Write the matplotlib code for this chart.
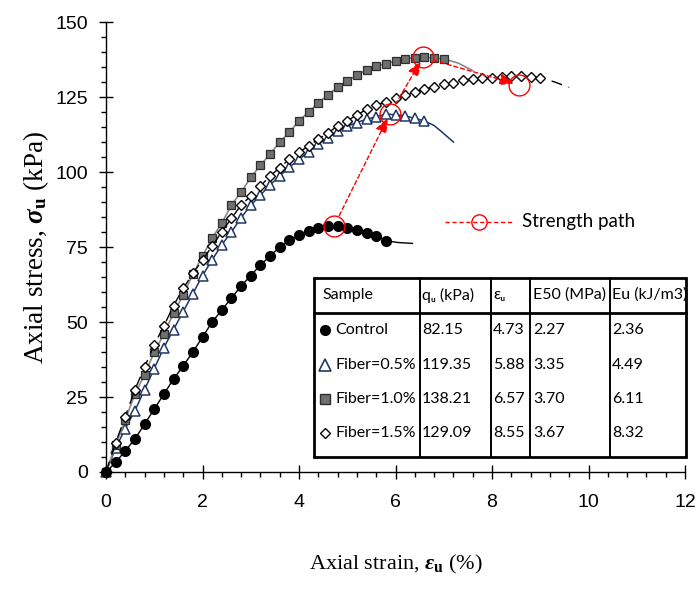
import matplotlib
matplotlib.use("Agg")
import matplotlib.pyplot as plt
from matplotlib import font_manager
from matplotlib.ticker import MultipleLocator
from matplotlib.lines import Line2D

# ---- stress-strain data (strain in %, stress in kPa) ----
control_strain = [0.0, 0.2, 0.4, 0.6, 0.8, 1.0, 1.2, 1.4, 1.6, 1.8, 2.0, 2.2, 2.4, 2.6, 2.8,
                  3.0, 3.2, 3.4, 3.6, 3.8, 4.0, 4.2, 4.4, 4.6, 4.8, 5.0, 5.2, 5.4, 5.6, 5.8]
control_stress = [0.0, 3.2, 7.1, 11.0, 16.0, 21.0, 26.0, 31.0, 35.4, 40.0, 45.0, 50.0, 54.0, 58.0, 62.0,
                  65.5, 69.0, 72.0, 75.0, 77.2, 79.0, 80.5, 81.4, 82.0, 82.1, 81.4, 80.8, 79.8, 78.8, 77.1]
control_tail_strain = [6.05, 6.35]
control_tail_stress = [76.5, 76.2]

fiber05_strain = [0.0, 0.2, 0.4, 0.6, 0.8, 1.0, 1.2, 1.4, 1.6, 1.8, 2.0, 2.2, 2.4, 2.6, 2.8, 3.0, 3.2,
                  3.4, 3.6, 3.8, 4.0, 4.2, 4.4, 4.6, 4.8, 5.0, 5.2, 5.4, 5.6, 5.8, 6.0, 6.2, 6.4, 6.6]
fiber05_stress = [0.0, 8.0, 14.5, 20.5, 27.5, 34.5, 41.5, 47.5, 53.5, 59.5, 65.5, 70.7, 75.8, 80.0, 84.8,
                  88.9, 92.3, 95.7, 98.7, 101.6, 104.2, 106.8, 109.3, 111.5, 113.6, 115.3, 116.5,
                  117.6, 118.4, 119.3, 119.1, 118.7, 117.9, 117.0]
fiber05_tail_strain = [6.8, 7.0, 7.2]
fiber05_tail_stress = [115.5, 112.8, 110.0]

fiber10_strain = [0.0, 0.2, 0.4, 0.6, 0.8, 1.0, 1.2, 1.4, 1.6, 1.8, 2.0, 2.2, 2.4, 2.6, 2.8, 3.0, 3.2,
                  3.4, 3.6, 3.8, 4.0, 4.2, 4.4, 4.6, 4.8, 5.0, 5.2, 5.4, 5.6, 5.8, 6.0, 6.2, 6.4,
                  6.6, 6.8, 7.0]
fiber10_stress = [0.0, 9.0, 17.5, 26.0, 32.5, 40.0, 46.0, 53.0, 59.0, 66.0, 72.0, 78.0, 83.0, 89.0, 93.3,
                  98.2, 102.2, 106.0, 110.0, 113.3, 117.0, 120.1, 123.0, 125.8, 128.2, 130.3, 132.3,
                  134.0, 135.2, 136.1, 137.0, 137.7, 138.1, 138.2, 138.0, 137.7]
fiber10_tail_strain = [7.3, 7.6]
fiber10_tail_stress = [136.3, 133.8]

fiber15_strain = [0.0, 0.2, 0.4, 0.6, 0.8, 1.0, 1.2, 1.4, 1.6, 1.8, 2.0, 2.2, 2.4, 2.6, 2.8, 3.0, 3.2,
                  3.4, 3.6, 3.8, 4.0, 4.2, 4.4, 4.6, 4.8, 5.0, 5.2, 5.4, 5.6, 5.8, 6.0, 6.2, 6.4,
                  6.6, 6.8, 7.0, 7.2, 7.4, 7.6, 7.8, 8.0, 8.2, 8.4, 8.6, 8.8, 9.0]
fiber15_stress = [0.0, 9.8, 18.5, 27.5, 35.0, 42.5, 48.7, 55.5, 61.2, 66.2, 70.7, 75.3, 80.1, 84.6, 89.0,
                  92.0, 95.3, 98.7, 101.4, 104.3, 106.6, 108.7, 110.9, 113.1, 115.3, 117.1, 119.0,
                  120.9, 122.3, 123.4, 124.6, 125.7, 126.6, 127.6, 128.4, 129.2, 129.8, 130.7,
                  131.0, 131.4, 131.5, 131.8, 132.0, 132.0, 131.8, 131.4]
fiber15_tail_strain = [9.3, 9.6]
fiber15_tail_stress = [130.0, 128.2]

# ---- summary table ----
table_header = ["Sample", "qᵤ (kPa)", "εᵤ", "E50 (MPa)", "Eu (kJ/m3)"]
table_samples = ["Control", "Fiber=0.5%", "Fiber=1.0%", "Fiber=1.5%"]
table_qu = [82.15, 119.35, 138.21, 129.09]
table_eu = [4.73, 5.88, 6.57, 8.55]
table_e50 = [2.27, 3.35, 3.70, 3.67]
table_energy = [2.36, 4.49, 6.11, 8.32]

x_ticks = [0, 2, 4, 6, 8, 10, 12]
y_ticks = [0, 25, 50, 75, 100, 125, 150]

# ---- fonts ----
available = {f.name for f in font_manager.fontManager.ttflist}
if "Liberation Sans Narrow" in available:
    tick_family, tick_size = "Liberation Sans Narrow", 16
else:
    tick_family, tick_size = "Liberation Sans", 14
table_family = ["Lato", "DejaVu Sans"]

plt.rcParams["mathtext.fontset"] = "custom"
plt.rcParams["mathtext.rm"] = "Liberation Serif"
plt.rcParams["mathtext.it"] = "Liberation Serif:italic"
plt.rcParams["mathtext.bf"] = "Liberation Serif:bold"
plt.rcParams["mathtext.bfit"] = "Liberation Serif:bold:italic"

NAVY = "#1f3864"
GRAY_FILL = "#6f6f6f"
GRAY_LINE = "#8a8a8a"
RED = "#ff0000"

fig = plt.figure(figsize=(6.99, 5.90), dpi=100)
ax = fig.add_axes([0.1517, 0.2, 0.8283, 0.7627])

# curves: markers on measured points, plain line on the tail
ax.plot(fiber05_strain + fiber05_tail_strain, fiber05_stress + fiber05_tail_stress,
        color=NAVY, lw=1.1, marker="^", ms=7, mfc="white", mec=NAVY, mew=1.1,
        markevery=list(range(len(fiber05_strain))), zorder=3, clip_on=False)
ax.plot(fiber10_strain + fiber10_tail_strain, fiber10_stress + fiber10_tail_stress,
        color=GRAY_LINE, lw=1.2, marker="s", ms=6.3, mfc=GRAY_FILL, mec="#2e2e2e", mew=0.9,
        markevery=list(range(len(fiber10_strain))), zorder=4, clip_on=False)
ax.plot(fiber15_strain + fiber15_tail_strain, fiber15_stress + fiber15_tail_stress,
        color="black", lw=1.0, ls=(0, (8, 5)), marker="D", ms=4.6, mfc="white", mec="black",
        mew=1.0, markevery=list(range(len(fiber15_strain))), zorder=5, clip_on=False)
ax.plot(control_strain + control_tail_strain, control_stress + control_tail_stress,
        color="black", lw=1.0, marker="o", ms=7, mfc="black", mec="black",
        markevery=list(range(len(control_strain))), zorder=6, clip_on=False)

# strength path through the peak points
ax.plot(table_eu, table_qu, ls="none", marker="o", ms=15, mfc="none", mec=RED, mew=1.0, zorder=7)
for i in range(len(table_eu) - 1):
    ax.annotate("", xy=(table_eu[i + 1], table_qu[i + 1]), xytext=(table_eu[i], table_qu[i]),
                arrowprops=dict(arrowstyle="-|>,head_length=0.9,head_width=0.35", color=RED,
                                lw=1.0, ls=(0, (3, 2)), shrinkA=8, shrinkB=3),
                zorder=7)

# axes styling
ax.set_xlim(0, 12)
ax.set_ylim(0, 150)
ax.set_xticks(x_ticks)
ax.set_yticks(y_ticks)
ax.xaxis.set_minor_locator(MultipleLocator(0.4))
ax.yaxis.set_minor_locator(MultipleLocator(5))
for side in ("top", "right"):
    ax.spines[side].set_visible(False)
for side in ("left", "bottom"):
    ax.spines[side].set_linewidth(1.0)
ax.tick_params(which="major", direction="inout", length=10, width=1.0, labelsize=tick_size)
ax.tick_params(axis="x", which="major", pad=11)
ax.tick_params(axis="y", which="major", pad=8)
ax.tick_params(which="minor", direction="out", length=3.6, width=1.0)
for lab in ax.get_xticklabels() + ax.get_yticklabels():
    lab.set_family(tick_family)

ax.set_xlabel(r"Axial strain, $\mathbfit{\varepsilon}_{\mathbf{u}}$ (%)",
              family="Liberation Serif", fontsize=16)
ax.set_ylabel(r"Axial stress, $\mathbfit{\sigma}_{\mathbf{u}}$ (kPa)",
              family="Liberation Serif", fontsize=19.5)
ax.xaxis.set_label_coords(0.5, -0.18)
ax.yaxis.set_label_coords(-0.095, 0.5)

T = ax.transAxes

# strength path key
ax.add_line(Line2D([0.5855, 0.7029], [0.5556, 0.5556], transform=T, color=RED, lw=1.0,
                   ls=(0, (3, 2)), clip_on=False))
ax.add_line(Line2D([0.6442], [0.5556], transform=T, marker="o", ms=11, mfc="none", mec=RED,
                   mew=1.0, ls="none", clip_on=False))
ax.text(0.7185, 0.5556, "Strength path", transform=T, family=table_family, fontsize=13.5,
        va="center", ha="left")

# summary table
col_edges = [0.3592, 0.5423, 0.6649, 0.7323, 0.8705, 1.0017]
y_top, y_head, y_bot = 0.4311, 0.3533, 0.0333
ax.add_patch(plt.Rectangle((col_edges[0], y_bot), col_edges[-1] - col_edges[0], y_top - y_bot,
                           transform=T, fill=True, fc="white", ec="black", lw=2.0,
                           clip_on=False, zorder=8))
ax.add_line(Line2D([col_edges[0], col_edges[-1]], [y_head, y_head], transform=T, color="black",
                   lw=2.0, clip_on=False, zorder=9))
for xe in col_edges[1:-1]:
    ax.add_line(Line2D([xe, xe], [y_bot, y_top], transform=T, color="black", lw=1.4,
                       clip_on=False, zorder=9))

text_x = [0.373, 0.5458, 0.6684, 0.7375, 0.874]
header_y = 0.3933
row_y = [0.3156, 0.2378, 0.1622, 0.0867]
tkw = dict(transform=T, family=table_family, fontsize=11.5, va="center", ha="left", zorder=10)
for x, h in zip(text_x, table_header):
    ax.text(x, header_y, h, **tkw)

key_styles = [
    dict(marker="o", ms=7, mfc="black", mec="black"),
    dict(marker="^", ms=8, mfc="white", mec=NAVY, mew=1.2),
    dict(marker="s", ms=7, mfc=GRAY_FILL, mec="#2e2e2e", mew=1.0),
    dict(marker="D", ms=5, mfc="white", mec="black", mew=1.0),
]
for i, y in enumerate(row_y):
    ax.add_line(Line2D([0.3785], [y], transform=T, ls="none", clip_on=False, zorder=10,
                       **key_styles[i]))
    ax.text(0.3955, y, table_samples[i], **tkw)
    ax.text(text_x[1], y, f"{table_qu[i]:.2f}", **tkw)
    ax.text(text_x[2], y, f"{table_eu[i]:.2f}", **tkw)
    ax.text(text_x[3], y, f"{table_e50[i]:.2f}", **tkw)
    ax.text(text_x[4], y, f"{table_energy[i]:.2f}", **tkw)

fig.savefig("out.png", dpi=100)
